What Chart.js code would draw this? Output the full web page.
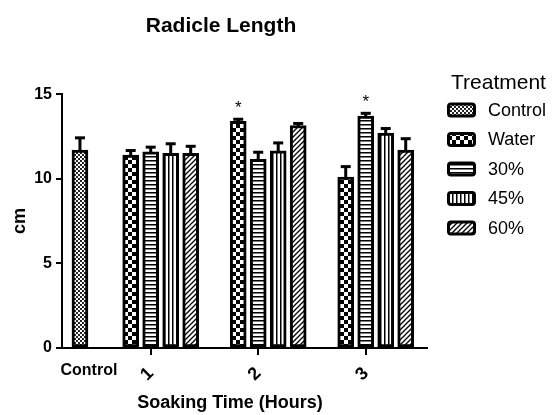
<!DOCTYPE html>
<html><head><meta charset="utf-8">
<script src="https://cdn.jsdelivr.net/npm/chart.js@4.4.1/dist/chart.umd.min.js"></script>
<style>html,body{margin:0;padding:0;background:#fff}#wrap{width:552px;height:415px;position:relative}</style>
</head><body><div id="wrap"><canvas id="c" width="552" height="415"></canvas></div>
<script>
// ---------- data ----------
const chartTitle = 'Radicle Length';
const xAxisTitle = 'Soaking Time (Hours)';
const yAxisTitle = 'cm';
const legendTitle = 'Treatment';
const controlLabel = 'Control';
const hourLabels = ['1', '2', '3'];
const seriesNames = ['Control', 'Water', '30%', '45%', '60%'];
const controlValues = [11.7];
const controlErrors = [0.75];
const waterValues = [11.4, 13.4, 10.1];
const waterErrors = [0.3, 0.15, 0.65];
const pct30Values = [11.6, 11.15, 13.7];
const pct30Errors = [0.3, 0.45, 0.2];
const pct45Values = [11.5, 11.65, 12.7];
const pct45Errors = [0.6, 0.5, 0.3];
const pct60Values = [11.5, 13.15, 11.7];
const pct60Errors = [0.45, 0.15, 0.7];
const yTickValues = [0, 5, 10, 15];
const significantBars = [['Water', 1], ['30%', 2]]; // series, hour index

// ---------- layout (not data) ----------
const controlPos = 0.342;
const slotWidth = 0.186;
const hourSlots = {Water: -1, '30%': 0, '45%': 1, '60%': 2};

function makePattern(kind) {
  const c = document.createElement('canvas');
  const g = c.getContext('2d');
  let s = 4;
  if (kind === 'check') s = 8;
  if (kind === 'diag') s = 5;
  c.width = c.height = s;
  g.fillStyle = '#fff'; g.fillRect(0, 0, s, s);
  g.fillStyle = '#000'; g.strokeStyle = '#000';
  if (kind === 'fine') { g.fillStyle = '#222'; g.fillRect(0, 0, 2, 2); g.fillRect(2, 2, 2, 2); }
  if (kind === 'check') { g.fillRect(0, 0, 4, 4); g.fillRect(4, 4, 4, 4); }
  if (kind === 'h') { g.fillRect(0, 0, s, 1.5); }
  if (kind === 'v') { g.fillRect(0, 0, 1.5, s); }
  if (kind === 'diag') {
    g.lineWidth = 1.3;
    g.beginPath();
    g.moveTo(-1, s + 1); g.lineTo(s + 1, -1);
    g.moveTo(-1, 1); g.lineTo(1, -1);
    g.moveTo(s - 1, s + 1); g.lineTo(s + 1, s - 1);
    g.stroke();
  }
  return g.createPattern(c, 'repeat');
}
const patterns = {
  'Control': makePattern('fine'),
  'Water': makePattern('check'),
  '30%': makePattern('h'),
  '45%': makePattern('v'),
  '60%': makePattern('diag')
};

function hourSeries(name, values, errors) {
  return {
    label: name,
    data: values.map((v, i) => ({x: (i + 1) + hourSlots[name] * slotWidth, y: v})),
    errors: errors,
    backgroundColor: patterns[name]
  };
}
const datasets = [
  {label: 'Control', data: controlValues.map(v => ({x: controlPos, y: v})), errors: controlErrors, backgroundColor: patterns['Control']},
  hourSeries('Water', waterValues, waterErrors),
  hourSeries('30%', pct30Values, pct30Errors),
  hourSeries('45%', pct45Values, pct45Errors),
  hourSeries('60%', pct60Values, pct60Errors)
].map(d => Object.assign(d, {borderColor: '#000', borderWidth: 3, borderSkipped: false, barThickness: 16, grouped: false}));

const FONT = "'Liberation Sans', Arial, sans-serif";

const extras = {
  id: 'extras',
  afterDatasetsDraw(chart) {
    const ctx = chart.ctx;
    const ys = chart.scales.y;
    ctx.save();
    ctx.fillStyle = '#000';
    chart.data.datasets.forEach((ds, di) => {
      const meta = chart.getDatasetMeta(di);
      meta.data.forEach((bar, i) => {
        const v = ds.data[i].y, e = ds.errors[i];
        const top = ys.getPixelForValue(v + e);
        const base = ys.getPixelForValue(v);
        ctx.fillRect(bar.x - 1.5, top, 3, base - top + 2);
        ctx.fillRect(bar.x - 5, top - 1, 10, 3);
      });
    });
    ctx.font = '17px ' + FONT;
    ctx.textAlign = 'center';
    ctx.textBaseline = 'middle';
    significantBars.forEach(([name, idx]) => {
      const di = seriesNames.indexOf(name);
      const ds = chart.data.datasets[di];
      const bar = chart.getDatasetMeta(di).data[idx];
      const top = ys.getPixelForValue(ds.data[idx].y + ds.errors[idx]);
      ctx.fillText('*', bar.x, top - 10);
    });
    ctx.restore();
  },
  afterDraw(chart) {
    const ctx = chart.ctx;
    const xs = chart.scales.x;
    ctx.save();
    ctx.fillStyle = '#000';
    ctx.textBaseline = 'middle';
    // Control category label
    ctx.font = 'bold 16px ' + FONT;
    ctx.textAlign = 'center';
    ctx.fillText(controlLabel, xs.getPixelForValue(controlPos) + 9, 371);
    // x axis title
    ctx.font = 'bold 18px ' + FONT;
    ctx.fillText(xAxisTitle, 230, 403);
    // legend
    ctx.textAlign = 'left';
    ctx.font = '21px ' + FONT;
    ctx.fillText(legendTitle, 451, 83);
    ctx.font = '18px ' + FONT;
    seriesNames.forEach((n, i) => {
      const cy = 110 + i * 29.5;
      ctx.beginPath();
      ctx.roundRect(448.5, cy - 6, 26, 12, 2.5);
      ctx.fillStyle = patterns[n];
      ctx.fill();
      ctx.lineWidth = 3;
      ctx.strokeStyle = '#000';
      ctx.stroke();
      ctx.fillStyle = '#000';
      ctx.fillText(n, 488, cy + 1);
    });
    ctx.restore();
  }
};

new Chart(document.getElementById('c'), {
  type: 'bar',
  data: {datasets},
  options: {
    responsive: false,
    animation: false,
    devicePixelRatio: 1,
    layout: {padding: {left: 15, right: 125, top: 0, bottom: 0}},
    plugins: {
      legend: {display: false},
      tooltip: {enabled: false},
      title: {
        display: true, text: chartTitle, color: '#000',
        font: {family: FONT, size: 21, weight: 'bold', lineHeight: 1.2},
        padding: {top: 14, bottom: 55}
      }
    },
    scales: {
      x: {
        type: 'linear', min: 0.175, max: 3.57, offset: false,
        afterBuildTicks(s) { s.ticks = hourLabels.map((l, i) => ({value: i + 1})); },
        afterFit(s) { s.height = 67; },
        ticks: {
          autoSkip: false, minRotation: 45, maxRotation: 45, padding: 8, color: '#000',
          font: {family: FONT, size: 18, weight: 'bold'},
          callback: (v, i) => hourLabels[i]
        },
        grid: {offset: false, drawOnChartArea: false, drawTicks: true, tickLength: 7, color: '#000', lineWidth: 2},
        border: {color: '#000', width: 2}
      },
      y: {
        min: 0, max: 15,
        afterBuildTicks(s) { s.ticks = yTickValues.map(v => ({value: v})); },
        afterFit(s) { s.width = 47; },
        ticks: {padding: 4, color: '#000', font: {family: FONT, size: 16, weight: 'bold'}},
        grid: {drawOnChartArea: false, drawTicks: true, tickLength: 6, color: '#000', lineWidth: 2},
        border: {color: '#000', width: 2},
        title: {display: true, text: yAxisTitle, color: '#000', padding: {top: -6, bottom: 0},
          font: {family: FONT, size: 18, weight: 'bold', lineHeight: 1.2}}
      }
    }
  },
  plugins: [extras]
});
</script></body></html>
